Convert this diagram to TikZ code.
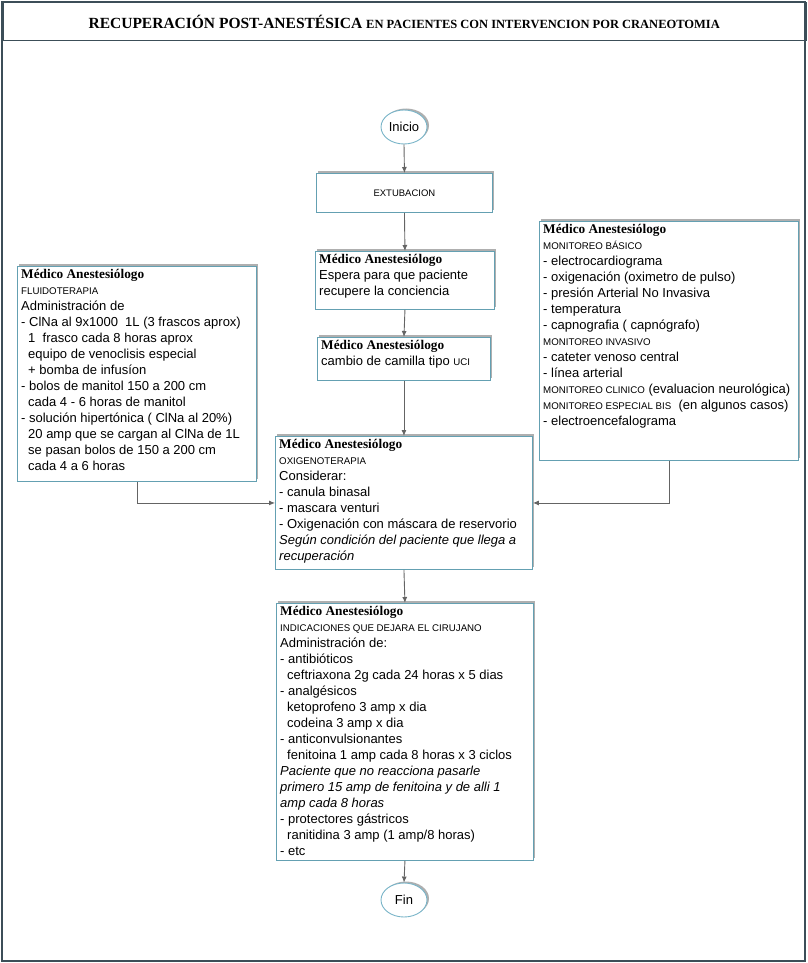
\documentclass[tikz,border=0pt]{standalone}
\usepackage{fontspec}
\setmainfont{Liberation Sans}
\newfontfamily\serifb{Liberation Serif}
\usetikzlibrary{shapes.geometric,arrows.meta,shadows}
\definecolor{boxc}{RGB}{100,160,178}
\definecolor{ellc}{RGB}{120,180,200}
\definecolor{framec}{RGB}{60,78,88}
\definecolor{linec}{RGB}{100,100,100}
\definecolor{shadc}{RGB}{175,175,175}
\newcommand\medhdr{{\serifb\bfseries\fontsize{13.3}{16}\selectfont Médico Anestesiólogo}}
\newcommand\smc[1]{{\fontsize{9.7}{16}\selectfont #1}}
\newcommand\ind{\hspace*{7pt}}
\tikzset{
  box/.style={draw=boxc, line width=0.9pt, fill=white, inner sep=0pt, anchor=north west,
    general shadow={fill=shadc, shadow xshift=2pt, shadow yshift=2pt}},
  ell/.style={ellipse, draw=ellc, line width=0.9pt, fill=white, inner sep=0pt,
    minimum width=46pt, minimum height=34pt, font=\fontsize{13}{15}\selectfont,
    general shadow={fill=shadc, shadow xshift=2pt, shadow yshift=1.5pt}},
  txt/.style={anchor=north west, align=left, inner sep=0pt, font=\fontsize{13}{16}\selectfont},
  conn/.style={draw=linec, line width=0.9pt, -{Latex[length=6pt,width=5pt]}}
}
\begin{document}
\begin{tikzpicture}[x=1pt,y=-1pt]
\useasboundingbox (0,0) rectangle (807,963);
\draw[framec, line width=1.5pt] (2,2) rectangle (805,961);
\node[draw=framec, line width=1.5pt, anchor=north west, minimum width=803pt, minimum height=38pt, inner sep=0pt] (title) at (2,2)
  {\serifb\bfseries\fontsize{15.5}{18}\selectfont RECUPERACIÓN POST-ANESTÉSICA {\fontsize{12.5}{18}\selectfont EN PACIENTES CON INTERVENCION POR CRANEOTOMIA}};

% nodes
\node[ell] (inicio) at (404,127) {Inicio};

\node[box, minimum width=176pt, minimum height=39pt] (ext) at (316,173) {};
\node[inner sep=0pt, font=\fontsize{9.5}{11}\selectfont] (extt) at (ext.center) {EXTUBACION};

\node[box, minimum width=179pt, minimum height=58pt] (esp) at (315,251) {};
\node[txt] (espt) at ([xshift=4pt,yshift=-3.5pt]esp.north west) {\medhdr\\Espera para que paciente\\recupere la conciencia};

\node[box, minimum width=173pt, minimum height=43pt] (cam) at (317,337) {};
\node[txt] (camt) at ([xshift=4pt,yshift=-3.5pt]cam.north west) {\medhdr\\cambio de camilla tipo \smc{UCI}};

\node[box, minimum width=239pt, minimum height=215pt] (flu) at (17,266) {};
\node[txt] (flut) at ([xshift=4pt,yshift=-3.5pt]flu.north west) {\medhdr\\\smc{FLUIDOTERAPIA}\\Administración de\\
- ClNa al 9x1000\ \ 1L (3 frascos aprox)\\
\ind 1\ \ frasco cada 8 horas aprox\\
\ind equipo de venoclisis especial\\
\ind + bomba de infusíon\\
- bolos de manitol 150 a 200 cm\\
\ind cada 4 - 6 horas de manitol\\
- solución hipertónica ( ClNa al 20\%)\\
\ind 20 amp que se cargan al ClNa de 1L\\
\ind se pasan bolos de 150 a 200 cm\\
\ind cada 4 a 6 horas};

\node[box, minimum width=259pt, minimum height=239pt] (mon) at (539,221) {};
\node[txt] (mont) at ([xshift=4pt,yshift=-3.5pt]mon.north west) {\medhdr\\\smc{MONITOREO BÁSICO}\\
- electrocardiograma\\
- oxigenación (oximetro de pulso)\\
- presión Arterial No Invasiva\\
- temperatura\\
- capnografia ( capnógrafo)\\
\smc{MONITOREO INVASIVO}\\
- cateter venoso central\\
- línea arterial\\
\smc{MONITOREO CLINICO} (evaluacion neurológica)\\
\smc{MONITOREO ESPECIAL BIS}\ \ (en algunos casos)\\
- electroencefalograma};

\node[box, minimum width=257pt, minimum height=133pt] (oxi) at (275,436) {};
\node[txt] (oxit) at ([xshift=4pt,yshift=-3.5pt]oxi.north west) {\medhdr\\\smc{OXIGENOTERAPIA}\\Considerar:\\
- canula binasal\\
- mascara venturi\\
- Oxigenación con máscara de reservorio\\
\textit{Según condición del paciente que llega a}\\
\textit{recuperación}};

\node[box, minimum width=257pt, minimum height=257pt] (ind) at (276,603) {};
\node[txt] (indt) at ([xshift=4pt,yshift=-3.5pt]ind.north west) {\medhdr\\\smc{INDICACIONES QUE DEJARA EL CIRUJANO}\\Administración de:\\
- antibióticos\\
\ind ceftriaxona 2g cada 24 horas x 5 dias\\
- analgésicos\\
\ind ketoprofeno 3 amp x dia\\
\ind codeina 3 amp x dia\\
- anticonvulsionantes\\
\ind fenitoina 1 amp cada 8 horas x 3 ciclos\\
\textit{Paciente que no reacciona pasarle}\\
\textit{primero 15 amp de fenitoina y de alli 1}\\
\textit{amp cada 8 horas}\\
- protectores gástricos\\
\ind ranitidina 3 amp (1 amp/8 horas)\\
- etc};

\node[ell] (fin) at (404,900) {Fin};

% connectors
\draw[conn] (inicio.south) -- (ext.north);
\draw[conn] (ext.south) -- (esp.north);
\draw[conn] (esp.south) -- (cam.north);
\draw[conn] (cam.south) -- (oxi.north);
\draw[conn] (flu.south) |- (oxi.west);
\draw[conn] (mon.south) |- (oxi.east);
\draw[conn] (oxi.south) -- (ind.north);
\draw[conn] (ind.south) -- (fin.north);
\end{tikzpicture}
\end{document}
